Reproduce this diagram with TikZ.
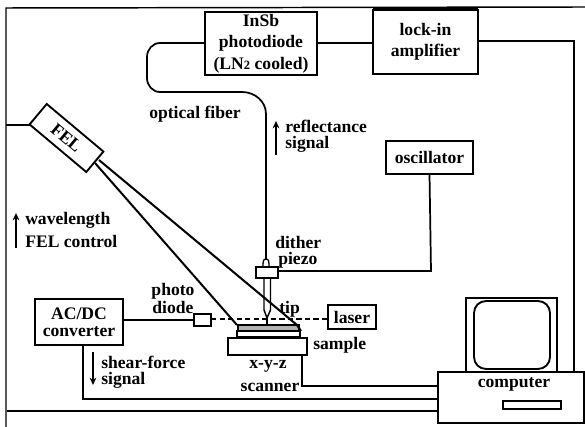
\documentclass[tikz,border=0pt]{standalone}
\usepackage{fontspec}
\setmainfont{Liberation Serif}
\usetikzlibrary{arrows.meta}
\tikzset{
  x=0.75pt,y=-0.75pt,
  wire/.style={line width=1.3pt,black},
  frameline/.style={line width=1.1pt,black},
  pbox/.style n args={4}{minimum width={(#3-#1)*0.75pt},minimum height={(#4-#2)*0.75pt},at={({(#1+#3)/2},{(#2+#4)/2})}},
  boxn/.style={draw,line width=1.4pt,inner sep=0pt,outer sep=0pt,align=center,font=\fontsize{13.2}{16}\selectfont\bfseries},
  lab/.style={inner sep=0pt,align=left,font=\fontsize{13.2}{13.5}\selectfont\bfseries},
  labc/.style={lab,align=center},
  sig/.style={line width=1.3pt,-{Stealth[length=5.5pt,width=5pt]}},
  beam/.style={line width=1.5pt},
  dashline/.style={line width=1.1pt,dash pattern=on 4pt off 2.4pt}
}
\begin{document}
\begin{tikzpicture}
\useasboundingbox (0,0) rectangle (585,427);
% nodes
\node[boxn,pbox={205}{12}{317}{75}] (insb) {InSb\\photodiode\\(LN{\fontsize{9.5}{10}\selectfont 2} cooled)};
\node[boxn,pbox={373}{10}{478}{74}] (lockin) {lock-in\\amplifier};
\node[boxn,pbox={386}{141}{473}{174}] (osc) {oscillator};
\node[boxn,pbox={35}{299}{123}{345},font=\fontsize{13.2}{12.5}\selectfont\bfseries] (acdc) {AC/DC\\converter};
\node[boxn,pbox={194}{314}{211}{326}] (pd) {};
\node[boxn,pbox={328}{305}{376}{329}] (laser) {laser};
\node[boxn,pbox={256}{267}{278}{278}] (dither) {};
\node[boxn,pbox={237}{331}{300}{337}] (sample) {};
\node[draw=black,fill=black!30,line width=0.8pt,inner sep=0pt,pbox={238}{325}{299}{331}] (film) {};
\node[boxn,pbox={228}{338}{307}{355}] (scanner) {};
\node[boxn,pbox={438}{372}{584}{423}] (computer) {};
\node[boxn,pbox={466}{298}{557}{372}] (monitor) {};
\node[draw,line width=1.4pt,rounded corners=9pt,inner sep=0pt,pbox={474}{301}{550}{369}] (screen) {};
\node[boxn,pbox={503}{401}{561}{409}] (slot) {};
\node[boxn,minimum width=55.5pt,minimum height=20pt,rotate=-40] (fel) at (66.5,138) {FEL};
% frame
\coordinate (tl) at (6,8); \coordinate (tr) at (585,7);
\coordinate (bl) at (6,427); \coordinate (fb) at (7,411);
\draw[frameline] (bl) -- (tl) -- (tr);
\draw[frameline] (fb) -- (computer.west |- fb);
\draw[line width=2pt] (373,8.5) -- (478,8.5);
% connectors
\draw[wire] (insb.west |- 0,43) -- (160,43) to[out=180,in=90] (147,57) -- (147,78) to[out=-90,in=180] (160,92) -- (242,92) to[out=0,in=90] (266,114) -- (266,259);
\draw[wire] (insb.east |- 0,43) -- (lockin.west |- 0,43);
\draw[wire] (lockin.east |- 0,41) -- (574,41) -- (574,372);
\draw[wire] (osc.south) -- (431,271) -- (dither.east |- 0,271);
\draw[wire] (acdc.east |- 0,320) -- (pd.west |- 0,320);
\draw[wire] (83,345) -- (83,399) -- (computer.west |- 0,399);
\draw[wire] (302,355) -- (302,386) -- (computer.west |- 0,386);
\draw[wire] (30,125) -- (6,125);
% fibre probe
\draw[line width=1pt] (263,267) .. controls (263,262) and (263,259) .. (266,259) .. controls (269,259) and (269,262) .. (269,267);
\draw[line width=1.1pt] (264,278) -- (264,310) -- (267,318) -- (270.5,310) -- (270.5,278);
\draw[line width=1.1pt] (267,318) -- (267,325);
% beam
\coordinate (b1) at (99,160); \coordinate (b2) at (297,325);
\coordinate (b3) at (95,163); \coordinate (b4) at (237,325);
\draw[beam] (b1) -- (b2) -- (301,331);
\draw[beam] (b3) -- (b4);
% laser beam
\draw[dashline] (pd.east |- 0,319) -- (laser.west |- 0,319);
% signal arrows
\coordinate (a1) at (276,155); \coordinate (a2) at (276,121);
\coordinate (a3) at (16,248); \coordinate (a4) at (16,213);
\coordinate (a5) at (93,352); \coordinate (a6) at (93,385);
\draw[sig] (a1) -- (a2);
\draw[sig] (a3) -- (a4);
\draw[sig] (a5) -- (a6);
% labels
\node[labc] (l1) at (195,114) {optical fiber};
\node[lab,anchor=west] (l2) at (285,126) {reflectance};
\node[lab,anchor=west] (l3) at (285,144) {signal};
\node[lab,anchor=west] (l4) at (25,220) {wavelength};
\node[lab,anchor=west] (l5) at (25,241) {FEL control};
\node[labc] (l6) at (173,291) {photo};
\node[labc] (l7) at (173,307) {diode};
\node[lab,anchor=west] (l8) at (275,242) {dither};
\node[lab,anchor=west] (l9) at (278,260) {piezo};
\node[lab,anchor=west] (l10) at (279,309) {tip};
\node[lab,anchor=west] (l11) at (313,345) {sample};
\node[labc] (l12) at (268,366) {x-y-z};
\node[labc] (l13) at (270,387) {scanner};
\node[lab,anchor=west] (l14) at (101,362) {shear-force};
\node[lab,anchor=west] (l15) at (101,380) {signal};
\node[labc] (l16) at (514,384) {computer};
\end{tikzpicture}
\end{document}
